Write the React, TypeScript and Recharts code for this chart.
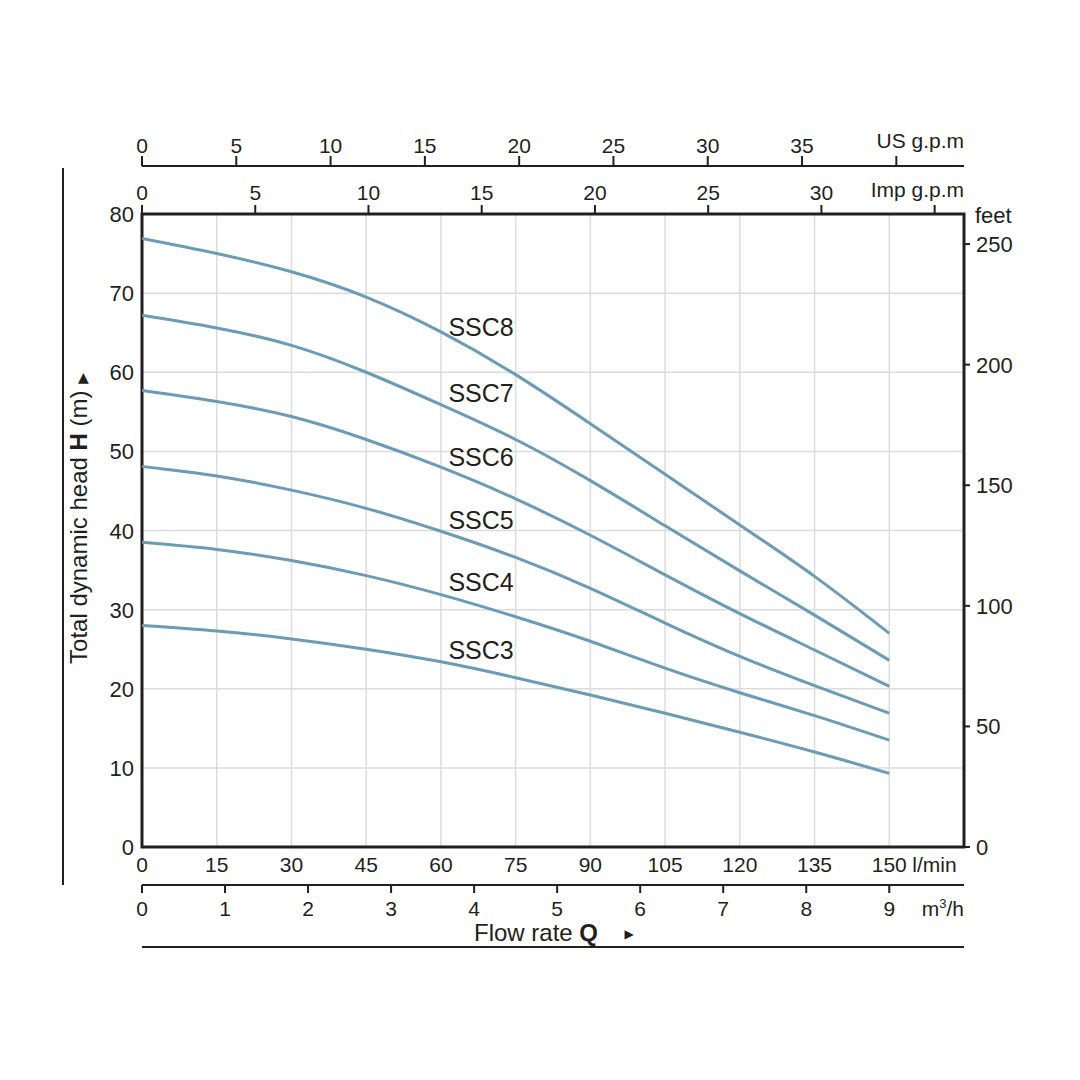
import React from 'react'
import {
  CartesianGrid,
  Line,
  LineChart,
  ReferenceArea,
  ReferenceDot,
  XAxis,
  YAxis,
} from 'recharts'

// flow rate in l/min, head in metres
const flow = [0, 15, 30, 45, 60, 75, 90, 105, 120, 135, 150]
const ssc8 = [76.9, 75.0, 72.7, 69.5, 65.1, 59.7, 53.5, 47.1, 40.7, 34.2, 27.0]
const ssc7 = [67.2, 65.6, 63.4, 60.0, 55.9, 51.5, 46.3, 40.6, 34.9, 29.3, 23.6]
const ssc6 = [57.7, 56.3, 54.4, 51.5, 48.0, 44.0, 39.4, 34.4, 29.5, 24.9, 20.3]
const ssc5 = [48.1, 46.9, 45.1, 42.8, 39.9, 36.6, 32.7, 28.3, 24.1, 20.4, 16.9]
const ssc4 = [38.5, 37.6, 36.2, 34.3, 31.9, 29.1, 26.0, 22.6, 19.5, 16.6, 13.5]
const ssc3 = [28.0, 27.3, 26.3, 25.0, 23.4, 21.4, 19.2, 16.9, 14.5, 12.0, 9.3]

const models = ['SSC8', 'SSC7', 'SSC6', 'SSC5', 'SSC4', 'SSC3']
const curves = [ssc8, ssc7, ssc6, ssc5, ssc4, ssc3]
const labelHeads = [65.7, 57.4, 49.3, 41.3, 33.5, 24.9]
const labelFlow = 61.5

const headTicks = [0, 10, 20, 30, 40, 50, 60, 70, 80]
const feetTicks = [0, 50, 100, 150, 200, 250]
const m3hTicks = [0, 1, 2, 3, 4, 5, 6, 7, 8, 9]
const usGpmTicks = [0, 5, 10, 15, 20, 25, 30, 35, 40]
const impGpmTicks = [0, 5, 10, 15, 20, 25, 30, 35]

const L_PER_M3H = 1000 / 60
const L_PER_USGAL = 3.78541
const L_PER_IMPGAL = 4.54609
const FT_PER_M = 3.28084
const MAX_FLOW = 165
const MAX_HEAD = 80

const INK = '#231f20'
const CURVE = '#6b9bb6'
const GRID = '#dcdcdc'
const FONT = "'Liberation Sans', Arial, Helvetica, sans-serif"

const chartData = flow.map((q, i) => {
  const row: Record<string, number> = { q }
  models.forEach((m, k) => {
    row[m] = curves[k][i]
  })
  return row
})

const txt = { fontFamily: FONT, fill: INK }

const FlowTick = ({ x, y, payload }: any) => (
  <g>
    <text x={x} y={y} dy={25} textAnchor="middle" fontSize={21} {...txt}>
      {payload.value}
    </text>
    {payload.value === 150 && (
      <text x={x + 23} y={y} dy={25} textAnchor="start" fontSize={21} {...txt}>
        l/min
      </text>
    )}
  </g>
)

const M3hTick = ({ x, y, payload }: any) => (
  <text x={x} y={y} dy={23} textAnchor="middle" fontSize={21} {...txt}>
    {Math.round(payload.value / L_PER_M3H)}
  </text>
)

const ImpTick = ({ x, y, payload }: any) => {
  const v = Math.round(payload.value / L_PER_IMPGAL)
  if (v === 35) return null
  return (
    <text x={x} y={y} dy={-5} textAnchor="middle" fontSize={21} {...txt}>
      {v}
    </text>
  )
}

const UsTick = ({ x, y, payload }: any) => {
  const v = Math.round(payload.value / L_PER_USGAL)
  if (v === 40) return null
  return (
    <text x={x} y={y} dy={-3} textAnchor="middle" fontSize={21} {...txt}>
      {v}
    </text>
  )
}

const HeadTick = ({ x, y, payload }: any) => (
  <text x={x} y={y} dx={-8} dy={8} textAnchor="end" fontSize={22} {...txt}>
    {payload.value}
  </text>
)

const FeetTick = ({ x, y, payload }: any) => (
  <text x={x} y={y} dx={6} dy={8} textAnchor="start" fontSize={22} {...txt}>
    {Math.round(payload.value)}
  </text>
)

const HeadTitle = ({ viewBox }: any) => {
  const { x, y, height } = viewBox
  const cx = x + 24
  const cy = y + height / 2 - 12
  return (
    <g>
      <line x1={x} y1={y - 46} x2={x} y2={y + height + 38} stroke={INK} strokeWidth={2} />
      <text
        x={cx}
        y={cy}
        transform={`rotate(-90 ${cx} ${cy})`}
        textAnchor="middle"
        fontSize={24}
        {...txt}
      >
        Total dynamic head <tspan fontWeight="bold">H</tspan> (m){' '}
        <tspan fontSize={14} fontFamily="DejaVu Sans">▶</tspan>
      </text>
    </g>
  )
}

const M3hTitle = ({ viewBox }: any) => {
  const { x, y, width } = viewBox
  return (
    <g>
      <text x={x + width} y={y + 31} textAnchor="end" fontSize={21} {...txt}>
        m<tspan fontSize={13} dy={-8}>3</tspan>
        <tspan dy={8}>/h</tspan>
      </text>
      <text x={x + width / 2 - 17} y={y + 56} textAnchor="middle" fontSize={24} {...txt}>
        Flow rate <tspan fontWeight="bold">Q</tspan>
      </text>
      <text x={x + width / 2 + 76} y={y + 53} textAnchor="middle" fontSize={12} fontFamily="DejaVu Sans" fill={INK}>
        ▶
      </text>
    </g>
  )
}

const UnitTitle = (label: string, dy: number) => ({ viewBox }: any) => {
  const { x, y, width, height } = viewBox
  return (
    <text x={x + width} y={y + height + dy} textAnchor="end" fontSize={21} {...txt}>
      {label}
    </text>
  )
}

const FeetTitle = ({ viewBox }: any) => {
  const { x, y } = viewBox
  return (
    <text x={x + 11} y={y + 9} textAnchor="start" fontSize={22} {...txt}>
      feet
    </text>
  )
}

const SeriesLabel = (name: string) => ({ viewBox }: any) => (
  <text x={viewBox.x} y={viewBox.y} dy={9} textAnchor="start" fontSize={25} {...txt}>
    {name}
  </text>
)

export default function App() {
  const flowDomain: [number, number] = [0, MAX_FLOW]
  return (
    <div style={{ position: 'absolute', left: 0, top: 0, width: 1080, height: 1080, background: '#fff' }}>
      <LineChart
        width={1080}
        height={1080}
        data={chartData}
        margin={{ top: 100, right: 0, bottom: 113, left: 63 }}
      >
        <CartesianGrid xAxisId="lmin" yAxisId="m" stroke={GRID} strokeWidth={1.5} />
        <XAxis
          xAxisId="lmin"
          dataKey="q"
          type="number"
          domain={flowDomain}
          allowDataOverflow
          ticks={flow}
          interval={0}
          orientation="bottom"
          height={38}
          axisLine={false}
          tickLine={false}
          tickSize={0}
          tickMargin={0}
          tick={<FlowTick />}
        />
        <XAxis
          xAxisId="m3h"
          dataKey="q"
          type="number"
          domain={flowDomain}
          allowDataOverflow
          ticks={m3hTicks.map((v) => v * L_PER_M3H)}
          interval={0}
          orientation="bottom"
          height={62}
          axisLine={{ stroke: INK, strokeWidth: 2 }}
          tickLine={{ stroke: INK, strokeWidth: 2 }}
          tickSize={8}
          tickMargin={0}
          tick={<M3hTick />}
          label={{ content: <M3hTitle /> } as any}
        />
        <XAxis
          xAxisId="rule"
          dataKey="q"
          type="number"
          domain={flowDomain}
          allowDataOverflow
          orientation="bottom"
          height={20}
          axisLine={{ stroke: INK, strokeWidth: 2 }}
          tickLine={false}
          tick={false}
        />
        <XAxis
          xAxisId="imp"
          dataKey="q"
          type="number"
          domain={flowDomain}
          allowDataOverflow
          ticks={impGpmTicks.map((v) => v * L_PER_IMPGAL)}
          interval={0}
          orientation="top"
          height={48}
          axisLine={{ stroke: INK, strokeWidth: 2 }}
          tickLine={{ stroke: INK, strokeWidth: 2 }}
          tickSize={9}
          tickMargin={0}
          tick={<ImpTick />}
          label={{ content: UnitTitle('Imp g.p.m', -17) } as any}
        />
        <XAxis
          xAxisId="us"
          dataKey="q"
          type="number"
          domain={flowDomain}
          allowDataOverflow
          ticks={usGpmTicks.map((v) => v * L_PER_USGAL)}
          interval={0}
          orientation="top"
          height={66}
          axisLine={{ stroke: INK, strokeWidth: 2 }}
          tickLine={{ stroke: INK, strokeWidth: 2 }}
          tickSize={10}
          tickMargin={0}
          tick={<UsTick />}
          label={{ content: UnitTitle('US g.p.m', -18) } as any}
        />
        <YAxis
          yAxisId="m"
          type="number"
          domain={[0, MAX_HEAD]}
          ticks={headTicks}
          interval={0}
          width={79}
          axisLine={false}
          tickLine={false}
          tickSize={0}
          tickMargin={0}
          tick={<HeadTick />}
          label={{ content: <HeadTitle /> } as any}
        />
        <YAxis
          yAxisId="ft"
          orientation="right"
          type="number"
          domain={[0, MAX_HEAD * FT_PER_M]}
          allowDataOverflow
          ticks={feetTicks}
          interval={0}
          width={116}
          axisLine={false}
          tickLine={{ stroke: INK, strokeWidth: 2 }}
          tickSize={6}
          tickMargin={0}
          tick={<FeetTick />}
          label={{ content: <FeetTitle /> } as any}
        />
        <ReferenceArea
          xAxisId="lmin"
          yAxisId="m"
          x1={0}
          x2={MAX_FLOW}
          y1={0}
          y2={MAX_HEAD}
          fill="none"
          fillOpacity={0}
          stroke={INK}
          strokeWidth={3}
        />
        {models.map((m) => (
          <Line
            key={m}
            xAxisId="lmin"
            yAxisId="m"
            dataKey={m}
            type="natural"
            stroke={CURVE}
            strokeWidth={3}
            dot={false}
            activeDot={false}
            isAnimationActive={false}
          />
        ))}
        {models.map((m, i) => (
          <ReferenceDot
            key={`lbl-${m}`}
            xAxisId="lmin"
            yAxisId="m"
            x={labelFlow}
            y={labelHeads[i]}
            r={0}
            fill="none"
            stroke="none"
            label={{ content: SeriesLabel(m) } as any}
          />
        ))}
      </LineChart>
    </div>
  )
}
